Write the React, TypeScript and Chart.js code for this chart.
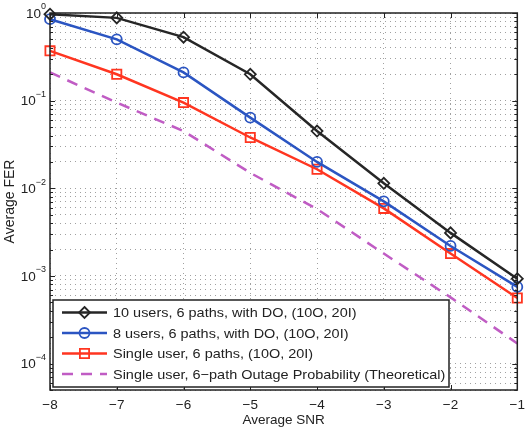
import React, { useEffect, useRef } from "react";
import { Chart, registerables } from "chart.js";

Chart.register(...registerables);

const snr = [-8, -7, -6, -5, -4, -3, -2, -1];
const fer10users = [0.97, 0.88, 0.53, 0.2, 0.045, 0.0114, 0.0031, 0.00093];
const fer8users = [0.85, 0.5, 0.21, 0.064, 0.02, 0.0071, 0.0022, 0.00075];
const ferSingle = [0.37, 0.2, 0.095, 0.038, 0.0165, 0.0059, 0.0018, 0.00056];
const outageTheory = [0.21, 0.095, 0.045, 0.015, 0.0058, 0.0018, 0.00057, 0.00017];

const seriesLabels = [
  "10 users, 6 paths, with DO, (10O, 20I)",
  "8 users, 6 paths, with DO, (10O, 20I)",
  "Single user, 6 paths, (10O, 20I)",
  "Single user, 6\u2212path Outage Probability (Theoretical)",
];
const seriesColors = ["#262626", "#2b55c2", "#ff3520", "#c05cc4"];
const xTicks = [-8, -7, -6, -5, -4, -3, -2, -1];
const yDecades = [-4, -3, -2, -1, 0];
const yMin = 5e-5;
const yMax = 1;
const FONT = "'Liberation Sans', Arial, Helvetica, sans-serif";

const frameAndLegend = {
  id: "frameAndLegend",
  afterDraw(chart: any) {
    const { ctx, chartArea: a, scales } = chart;
    const ys = scales.y;
    const xs = scales.x;
    ctx.save();
    // inside ticks
    ctx.strokeStyle = "#222";
    ctx.lineWidth = 1;
    ctx.beginPath();
    xs.ticks.forEach((t: any) => {
      const px = Math.round(xs.getPixelForValue(t.value)) + 0.5;
      ctx.moveTo(px, a.bottom);
      ctx.lineTo(px, a.bottom - 5);
      ctx.moveTo(px, a.top);
      ctx.lineTo(px, a.top + 5);
    });
    ys.ticks.forEach((t: any) => {
      const py = Math.round(ys.getPixelForValue(t.value)) + 0.5;
      const lg = Math.log10(t.value);
      const major = Math.abs(lg - Math.round(lg)) < 1e-6;
      const len = major ? 5 : 3;
      ctx.moveTo(a.left, py);
      ctx.lineTo(a.left + len, py);
      ctx.moveTo(a.right, py);
      ctx.lineTo(a.right - len, py);
    });
    ctx.stroke();
    // frame
    ctx.lineWidth = 1.5;
    ctx.strokeRect(a.left, a.top, a.right - a.left, a.bottom - a.top);

    // y labels 10^n
    ctx.fillStyle = "#222";
    ctx.textBaseline = "middle";
    yDecades.forEach((e) => {
      const v = Math.pow(10, e);
      if (v < yMin || v > yMax) return;
      const py = ys.getPixelForValue(v);
      const exp = e === 0 ? "0" : "\u2212" + Math.abs(e);
      ctx.font = `9px ${FONT}`;
      const ew = ctx.measureText(exp).width;
      ctx.font = `13.5px ${FONT}`;
      const bw = ctx.measureText("10").width;
      const right = a.left - 4;
      ctx.textAlign = "left";
      ctx.fillText("10", right - ew - bw, py + 1);
      ctx.font = `9px ${FONT}`;
      ctx.fillText(exp, right - ew, py - 6);
    });

    // legend box
    const bx = 53, by = 300, bw2 = 396, bh = 87;
    ctx.fillStyle = "#fff";
    ctx.fillRect(bx, by, bw2, bh);
    ctx.strokeStyle = "#222";
    ctx.lineWidth = 1.5;
    ctx.strokeRect(bx, by, bw2, bh);
    const ds = chart.data.datasets;
    ds.forEach((d: any, i: number) => {
      const yy = by + 12.5 + i * 20.5;
      const x0 = 62, x1 = 107, xm = 84.5;
      ctx.strokeStyle = d.borderColor;
      ctx.lineWidth = d.borderWidth;
      ctx.setLineDash(d.borderDash || []);
      ctx.beginPath();
      ctx.moveTo(x0, yy);
      ctx.lineTo(x1, yy);
      ctx.stroke();
      ctx.setLineDash([]);
      if (d.pointStyle && d.pointRadius > 0) {
        ctx.lineWidth = d.pointBorderWidth;
        ctx.strokeStyle = d.borderColor;
        const r = d.pointRadius;
        ctx.beginPath();
        if (d.pointStyle === "circle") {
          ctx.arc(xm, yy, r, 0, Math.PI * 2);
        } else if (d.pointStyle === "rect") {
          const h = r * Math.SQRT1_2;
          ctx.rect(xm - h, yy - h, 2 * h, 2 * h);
        } else {
          ctx.moveTo(xm, yy - r);
          ctx.lineTo(xm + r, yy);
          ctx.lineTo(xm, yy + r);
          ctx.lineTo(xm - r, yy);
          ctx.closePath();
        }
        ctx.stroke();
      }
      ctx.fillStyle = "#222";
      ctx.font = `12.8px ${FONT}`;
      ctx.textAlign = "left";
      ctx.textBaseline = "middle";
      ctx.save();
      ctx.translate(113, yy + 1);
      ctx.scale(1.13, 1);
      ctx.fillText(d.label, 0, 0);
      ctx.restore();
    });
    ctx.restore();
  },
};

export default function App() {
  const ref = useRef<HTMLCanvasElement | null>(null);
  useEffect(() => {
    document.body.style.margin = "0";
    if (!ref.current) return;
    const mk = (i: number, data: number[], style: any, radius: number, dash?: number[]) => ({
      label: seriesLabels[i],
      data: snr.map((x, k) => ({ x, y: data[k] })),
      borderColor: seriesColors[i],
      backgroundColor: seriesColors[i],
      borderWidth: 2.5,
      borderDash: dash,
      pointStyle: style,
      pointRadius: radius,
      pointBorderWidth: 1.8,
      pointBackgroundColor: "transparent",
      pointBorderColor: seriesColors[i],
      tension: 0,
      clip: false,
    });
    const chart = new Chart(ref.current, {
      type: "line",
      data: {
        datasets: [
          mk(0, fer10users, "rectRot", 5.5),
          mk(1, fer8users, "circle", 5),
          mk(2, ferSingle, "rect", 6.5),
          mk(3, outageTheory, false, 0, [11, 8]),
        ] as any,
      },
      options: {
        animation: false,
        responsive: true,
        maintainAspectRatio: false,
        layout: { padding: { top: 13, right: 11, left: 0, bottom: 0 } },
        plugins: { legend: { display: false }, tooltip: { enabled: false } },
        scales: {
          x: {
            type: "linear",
            min: -8,
            max: -1,
            afterBuildTicks: (s: any) => {
              s.ticks = xTicks.map((v) => ({ value: v }));
            },
            afterFit: (s: any) => {
              s.height = 39;
            },
            ticks: {
              autoSkip: false,
              padding: 7,
              color: "#222",
              font: { family: FONT, size: 13.5 },
              callback: (v: any) => (Number(v) < 0 ? "\u2212" + Math.abs(Number(v)) : String(v)),
            },
            grid: { color: "#a0a0a0", lineWidth: 1, drawTicks: false },
            border: { display: false, dash: [1, 4] },
            title: {
              display: true,
              text: "Average SNR",
              color: "#222",
              font: { family: FONT, size: 13.5 },
              padding: { top: 0, bottom: 1 },
            },
          },
          y: {
            type: "logarithmic",
            min: yMin,
            max: yMax,
            afterBuildTicks: (s: any) => {
              const t: any[] = [];
              for (let e = -5; e <= 0; e++) {
                for (let m = 1; m <= 9; m++) {
                  const v = Number((m * Math.pow(10, e)).toPrecision(6));
                  if (v >= yMin - 1e-12 && v <= yMax + 1e-12) t.push({ value: v });
                }
              }
              s.ticks = t;
            },
            afterFit: (s: any) => {
              s.width = 50;
            },
            ticks: { display: false, autoSkip: false },
            grid: { color: "#a0a0a0", lineWidth: 1, drawTicks: false },
            border: { display: false, dash: [1, 4] },
            title: {
              display: true,
              text: "Average FER",
              color: "#222",
              font: { family: FONT, size: 14 },
              padding: { top: 2, bottom: 0 },
            },
          },
        },
      },
      plugins: [frameAndLegend],
    });
    return () => chart.destroy();
  }, []);
  return (
    <div style={{ width: 532, height: 429, position: "relative", background: "#fff" }}>
      <canvas ref={ref} />
    </div>
  );
}
